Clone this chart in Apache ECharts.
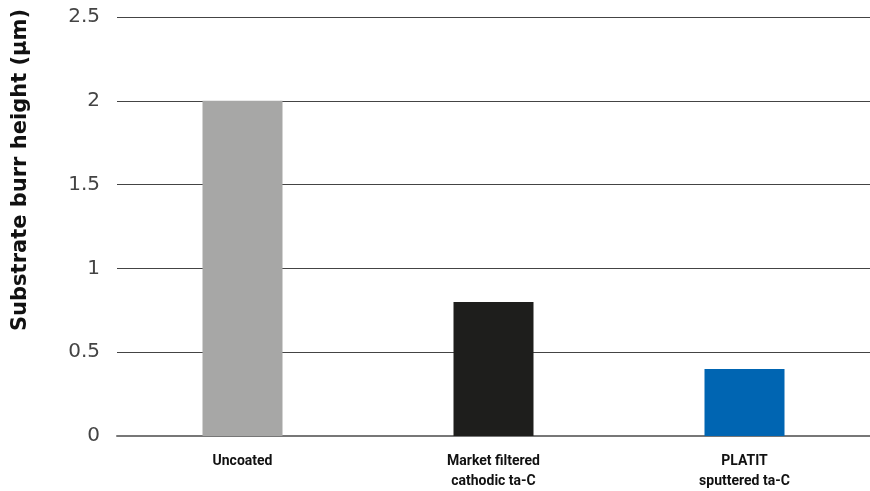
<!DOCTYPE html>
<html><head><meta charset="utf-8">
<script src="https://cdn.jsdelivr.net/npm/echarts@6/dist/echarts.min.js"></script>
<style>html,body{margin:0;padding:0;background:#fff}#c{width:870px;height:491px}</style>
</head><body><div id="c"></div>
<script>
const categories = ['Uncoated', 'Market filtered\ncathodic ta-C', 'PLATIT\nsputtered ta-C'];
const values = [2, 0.8, 0.4];
const barColors = ['#a7a7a6', '#1e1e1c', '#0065b2'];
const yTitle = 'Substrate burr height (µm)';

const chart = echarts.init(document.getElementById('c'));
chart.setOption({
  animation: false,
  grid: { left: 117, right: 0, top: 17, bottom: 54, containLabel: false },
  xAxis: {
    type: 'category', data: categories,
    axisLine: { lineStyle: { color: '#777', width: 2 } },
    axisTick: { show: false },
    axisLabel: { margin: 15, color: '#111', fontFamily: 'Roboto', fontWeight: 'bold', fontSize: 14, lineHeight: 20 }
  },
  yAxis: {
    type: 'value', min: 0, max: 2.5, interval: 0.5,
    axisLine: { show: false }, axisTick: { show: false },
    axisLabel: { margin: 17, color: '#444', fontFamily: 'DejaVu Sans', fontSize: 20 },
    splitLine: { lineStyle: { color: '#444', width: 1.2 } }
  },
  graphic: [{
    type: 'text', x: 21, y: 170, rotation: Math.PI / 2,
    style: { text: yTitle, fill: '#111', font: 'bold 21px "DejaVu Sans"', align: 'center', verticalAlign: 'middle' }
  }],
  series: [{
    type: 'bar', barWidth: 80,
    data: values.map((v, i) => ({ value: v, itemStyle: { color: barColors[i] } }))
  }]
});
</script></body></html>
